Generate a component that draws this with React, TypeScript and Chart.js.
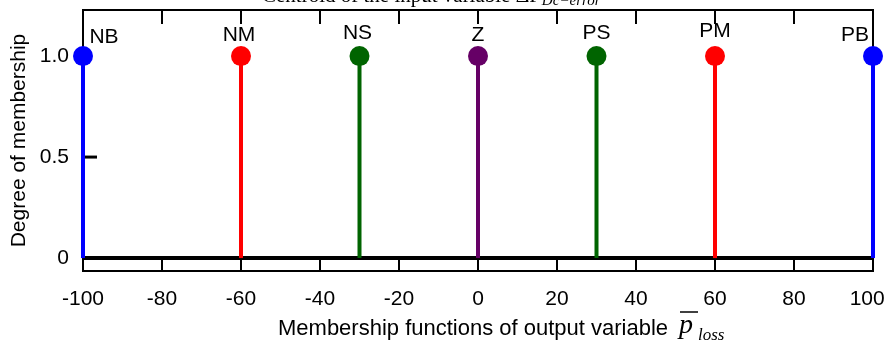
import React, { useEffect, useRef } from "react";
import { Chart, registerables } from "chart.js";
Chart.register(...registerables);

const categories = ["NB", "NM", "NS", "Z", "PS", "PM", "PB"];
const centers = [-100, -60, -30, 0, 30, 60, 100];
const membership = [1, 1, 1, 1, 1, 1, 1];
const xTicks = [-100, -80, -60, -40, -20, 0, 20, 40, 60, 80, 100];
const xTickLabels = ["-100", "-80", "-60", "-40", "-20", "0", "20", "40", "60", "80", "100\u00a0\u00a0"];
const yTicks = [0, 0.5, 1];
const yTickLabels = ["0", "0.5", "1.0"];
const colors = ["#0000ff", "#ff0000", "#006400", "#660066", "#006400", "#ff0000", "#0000ff"];
const labelOffsets = [[21, -19], [-2, -21], [-2, -23], [0, -21], [0, -23], [0, -25], [-18, -21]];

const SANS = "'Liberation Sans', Arial, sans-serif";
const SERIF = "'Liberation Serif', 'Times New Roman', serif";

const zeroPad = (s: any) => {
  s.paddingTop = 0;
  s.paddingBottom = 0;
  s.paddingLeft = 0;
  s.paddingRight = 0;
};

const framePlugin = {
  id: "frame",
  beforeDatasetsDraw(chart: any) {
    const { ctx, chartArea: a, scales } = chart;
    const xs = scales.x, ys = scales.y;
    ctx.save();
    ctx.strokeStyle = "#000";
    ctx.lineWidth = 2;
    ctx.strokeRect(a.left, a.top, a.right - a.left, a.bottom - a.top);
    ctx.beginPath();
    for (const v of xTicks) {
      const px = xs.getPixelForValue(v);
      ctx.moveTo(px, a.top);
      ctx.lineTo(px, a.top + 14);
      ctx.moveTo(px, a.bottom);
      ctx.lineTo(px, ys.getPixelForValue(0));
    }
    ctx.stroke();
    ctx.lineWidth = 3;
    ctx.beginPath();
    for (const v of yTicks) {
      if (v <= 0 || v >= 1) continue;
      const py = ys.getPixelForValue(v);
      ctx.moveTo(a.left, py);
      ctx.lineTo(a.left + 14, py);
    }
    ctx.stroke();
    ctx.lineWidth = 4;
    ctx.beginPath();
    const y0 = ys.getPixelForValue(0);
    ctx.moveTo(a.left, y0);
    ctx.lineTo(a.right, y0);
    ctx.stroke();
    ctx.restore();
  },
  afterDraw(chart: any) {
    const { ctx, scales } = chart;
    const xs = scales.x, ys = scales.y;
    ctx.save();
    ctx.fillStyle = "#000";
    ctx.strokeStyle = "#000";
    ctx.font = `21px ${SANS}`;
    ctx.textAlign = "center";
    ctx.textBaseline = "middle";
    categories.forEach((c, i) => {
      const px = xs.getPixelForValue(centers[i]);
      const py = ys.getPixelForValue(membership[i]);
      ctx.fillText(c, px + labelOffsets[i][0], py + labelOffsets[i][1]);
    });
    // x-axis title
    ctx.textAlign = "left";
    ctx.textBaseline = "alphabetic";
    ctx.font = `22px ${SANS}`;
    ctx.fillText("Membership functions of output variable", 278, 335);
    ctx.font = `italic 28px ${SERIF}`;
    ctx.fillText("p", 679, 333);
    ctx.lineWidth = 1.5;
    ctx.beginPath();
    ctx.moveTo(680, 312);
    ctx.lineTo(698, 312);
    ctx.stroke();
    ctx.font = `italic 17px ${SERIF}`;
    ctx.fillText("loss", 698, 340);
    // clipped top title
    ctx.font = `21px ${SERIF}`;
    const main = "Centroid of the input variable \u0394P";
    ctx.fillText(main, 262, 1.5);
    const w = ctx.measureText(main).width;
    ctx.font = `italic 15px ${SERIF}`;
    ctx.fillText("Dc\u2212error", 262 + w + 1, 5);
    ctx.restore();
  },
};

export default function App() {
  const ref = useRef<HTMLCanvasElement>(null);
  useEffect(() => {
    const datasets = categories.map((c, i) => ({
      label: c,
      data: [
        { x: centers[i], y: 0 },
        { x: centers[i], y: membership[i] },
      ],
      showLine: true,
      borderColor: colors[i],
      borderWidth: 4,
      pointRadius: [0, 10],
      pointHoverRadius: [0, 10],
      pointBackgroundColor: colors[i],
      pointBorderWidth: 0,
      clip: false,
    }));
    const chart = new Chart(ref.current!, {
      type: "scatter",
      data: { datasets },
      plugins: [framePlugin],
      options: {
        animation: false,
        responsive: false,
        events: [],
        layout: { padding: { top: 10, right: 14, left: 0, bottom: 0 } },
        plugins: { legend: { display: false }, tooltip: { enabled: false } },
        scales: {
          x: {
            type: "linear",
            min: -100,
            max: 100,
            afterBuildTicks: (s: any) => {
              s.ticks = xTicks.map((v) => ({ value: v }));
            },
            afterFit: (s: any) => {
              s.height = 72;
              zeroPad(s);
            },
            grid: { display: false, drawTicks: false },
            border: { display: false },
            ticks: {
              color: "#000",
              font: { family: SANS, size: 21 },
              padding: 16,
              maxRotation: 0,
              autoSkip: false,
              callback: (v: any) => xTickLabels[xTicks.indexOf(Number(v))] ?? "",
            },
          },
          y: {
            type: "linear",
            min: -0.064,
            max: 1.228,
            afterBuildTicks: (s: any) => {
              s.ticks = yTicks.map((v) => ({ value: v }));
            },
            afterFit: (s: any) => {
              s.width = 83;
              zeroPad(s);
            },
            grid: { display: false, drawTicks: false },
            border: { display: false },
            ticks: {
              color: "#000",
              font: { family: SANS, size: 21 },
              padding: 14,
              callback: (v: any) => yTickLabels[yTicks.indexOf(Number(v))] ?? "",
            },
            title: {
              display: true,
              text: "Degree of membership",
              color: "#000",
              font: { family: SANS, size: 21 },
              padding: { top: 7, bottom: 0 },
            },
          },
        },
      },
    });
    return () => chart.destroy();
  }, []);
  return (
    <div style={{ position: "fixed", left: 0, top: 0, width: 887, height: 343, background: "#fff" }}>
      <canvas ref={ref} width={887} height={343} style={{ display: "block" }} />
    </div>
  );
}
